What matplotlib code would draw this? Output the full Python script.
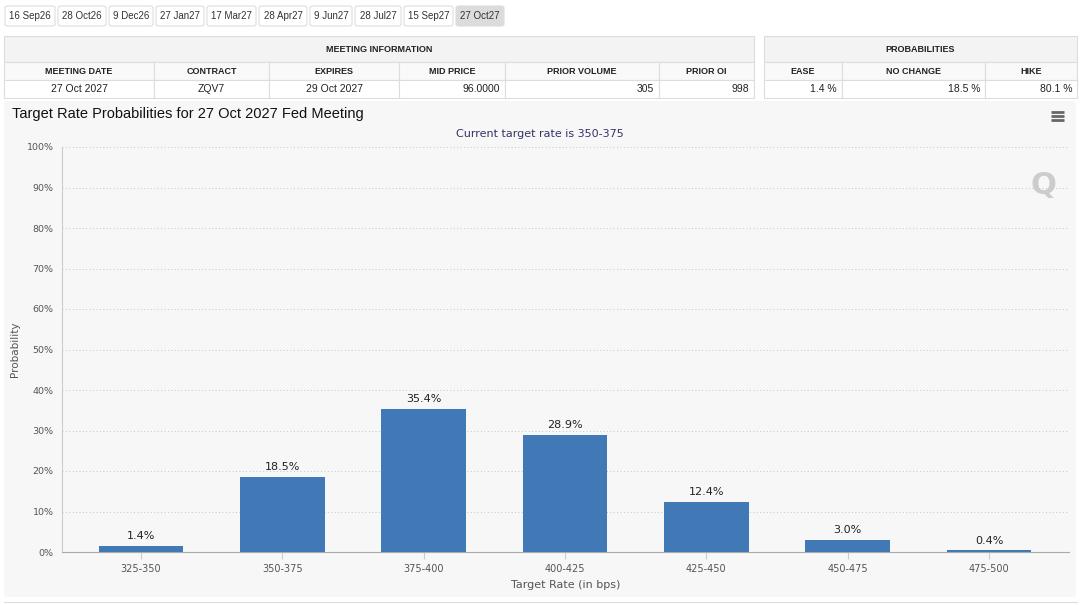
import matplotlib.pyplot as plt
from matplotlib.patches import Rectangle, FancyBboxPatch

# Datos del grafico
rangos = ['325-350', '350-375', '375-400', '400-425', '425-450', '450-475', '475-500']
probabilidades = [1.4, 18.5, 35.4, 28.9, 12.4, 3.0, 0.4]

# Pestañas de reuniones
reuniones = ['16 Sep26', '28 Oct26', '9 Dec26', '27 Jan27', '17 Mar27',
             '28 Apr27', '9 Jun27', '28 Jul27', '15 Sep27', '27 Oct27']
reunion_activa = '27 Oct27'

# Tablas de informacion
cab_reunion = ['MEETING DATE', 'CONTRACT', 'EXPIRES', 'MID PRICE', 'PRIOR VOLUME', 'PRIOR OI']
val_reunion = ['27 Oct 2027', 'ZQV7', '29 Oct 2027', '96.0000', '305', '998']
cab_prob = ['EASE', 'NO CHANGE', 'HIKE']
val_prob = ['1.4 %', '18.5 %', '80.1 %']

W, H = 1080, 605
TXT = 'Liberation Sans'
CHART = 'DejaVu Sans'


def fx(x):
    return x / W


def fy(y):
    return 1 - y / H


fig = plt.figure(figsize=(W / 100, H / 100), dpi=100)
fig.patch.set_facecolor('white')


def caja(x0, y0, x1, y1, fondo='white', borde='#dddddd', lw=0.8):
    fig.patches.append(Rectangle((fx(x0), fy(y1)), fx(x1) - fx(x0), fy(y0) - fy(y1),
                                 transform=fig.transFigure, facecolor=fondo,
                                 edgecolor=borde, linewidth=lw, zorder=-2))


#%% Pestañas
limites_tabs = [(5, 55), (58, 106), (109, 153), (156, 204), (207, 256),
                (259, 307), (310, 352), (355, 401), (404, 453), (456, 504)]
for nombre, (a, b) in zip(reuniones, limites_tabs):
    fondo = '#dcdcdc' if nombre == reunion_activa else 'white'
    borde = '#dcdcdc' if nombre == reunion_activa else '#dddddd'
    fig.patches.append(FancyBboxPatch((fx(a), fy(26)), fx(b) - fx(a), fy(6) - fy(26),
                                      boxstyle='round,pad=0,rounding_size=0.003',
                                      transform=fig.transFigure, facecolor=fondo,
                                      edgecolor=borde, linewidth=0.8, zorder=-2))
    fig.text(fx((a + b) / 2), fy(16), nombre, ha='center', va='center',
             fontsize=7, family=TXT, color='#333333')


#%% Tablas
def tabla(cols, titulo, cabeceras, valores, alineados):
    x0, x1 = cols[0], cols[-1]
    caja(x0, 36, x1, 62, fondo='#f3f3f3')
    fig.text(fx((x0 + x1) / 2), fy(49), titulo, ha='center', va='center',
             fontsize=6.5, family=TXT, weight='bold', color='#222222')
    for i in range(len(cabeceras)):
        a, b = cols[i], cols[i + 1]
        caja(a, 62, b, 80, fondo='#f9f9f9')
        caja(a, 80, b, 98, fondo='white')
        fig.text(fx((a + b) / 2), fy(71), cabeceras[i], ha='center', va='center',
                 fontsize=6.5, family=TXT, weight='bold', color='#222222')
        if alineados[i] == 'right':
            fig.text(fx(b - 5), fy(89), valores[i], ha='right', va='center',
                     fontsize=7.5, family=TXT, color='#222222')
        else:
            fig.text(fx((a + b) / 2), fy(89), valores[i], ha='center', va='center',
                     fontsize=7.5, family=TXT, color='#222222')


tabla([4, 154, 269, 399, 505, 659, 754], 'MEETING INFORMATION', cab_reunion, val_reunion,
      ['center', 'center', 'center', 'right', 'right', 'right'])
tabla([764, 842, 985, 1077], 'PROBABILITIES', cab_prob, val_prob,
      ['right', 'right', 'right'])

# Panel del grafico
fig.patches.append(FancyBboxPatch((fx(4), fy(597)), fx(1076) - fx(4), fy(101) - fy(597),
                                  boxstyle='round,pad=0,rounding_size=0.004',
                                  transform=fig.transFigure, facecolor='#f7f7f7',
                                  edgecolor='none', zorder=-2))
fig.add_artist(plt.Line2D([fx(4), fx(1077)], [fy(602), fy(602)], color='#dddddd', lw=0.8))

fig.text(fx(12), fy(114), 'Target Rate Probabilities for 27 Oct 2027 Fed Meeting',
         ha='left', va='center', fontsize=10.5, family=TXT, color='#111111')
fig.text(fx(540), fy(134), 'Current target rate is 350-375', ha='center', va='center',
         fontsize=8, family=CHART, color='#333366')

# Icono de menu
for dy in (-4, 0, 4):
    fig.add_artist(plt.Line2D([fx(1051), fx(1064)], [fy(116 + dy), fy(116 + dy)],
                              color='#666666', lw=2, solid_capstyle='butt'))

# Marca de agua
fig.text(fx(1043), fy(185), 'Q', ha='center', va='center', fontsize=22,
         family=CHART, weight='bold', color='#cccccc')

#%% Grafico de barras
ax = fig.add_axes([fx(62), fy(552), fx(1069) - fx(62), fy(147) - fy(552)])
ax.set_zorder(2)
ax.set_facecolor('none')
x = list(range(len(rangos)))
barras = ax.bar(x, probabilidades, width=0.6, color='#4079b5', zorder=3)
for xi, p in zip(x, probabilidades):
    ax.text(xi, p + 1.2, '%.1f%%' % p, ha='center', va='bottom', fontsize=8,
            family=CHART, color='#222222')

ax.set_xlim(-0.559, 6.566)
ax.set_ylim(0, 100)
ax.set_yticks(range(0, 101, 10))
ax.set_yticklabels(['%d%%' % v for v in range(0, 101, 10)])
ax.set_xticks(x)
ax.set_xticklabels(rangos)
ax.tick_params(axis='y', length=0, pad=6, labelsize=6.8, labelcolor='#555555')
ax.tick_params(axis='x', length=5, width=0.8, color='#cccccc', pad=4,
               labelsize=7, labelcolor='#555555')
for t in ax.get_xticklabels() + ax.get_yticklabels():
    t.set_family(CHART)

ax.grid(axis='y', linestyle=(0, (1, 2.5)), color='#c4c4c4', linewidth=0.7, zorder=0)
for lado in ('top', 'right'):
    ax.spines[lado].set_visible(False)
ax.spines['left'].set_color('#cccccc')
ax.spines['bottom'].set_color('#aaaaaa')
ax.spines['left'].set_linewidth(0.8)
ax.spines['bottom'].set_linewidth(0.8)

ax.set_xlabel('Target Rate (in bps)', fontsize=8, family=CHART, color='#555555', labelpad=4)
ax.set_ylabel('Probability', fontsize=7.5, family=CHART, color='#555555')
# posicion de la etiqueta del eje y en pixeles (x=20)
ax.yaxis.set_label_coords((20 - 62) / 1007, 0.5)

fig.savefig('out.png', dpi=100)
